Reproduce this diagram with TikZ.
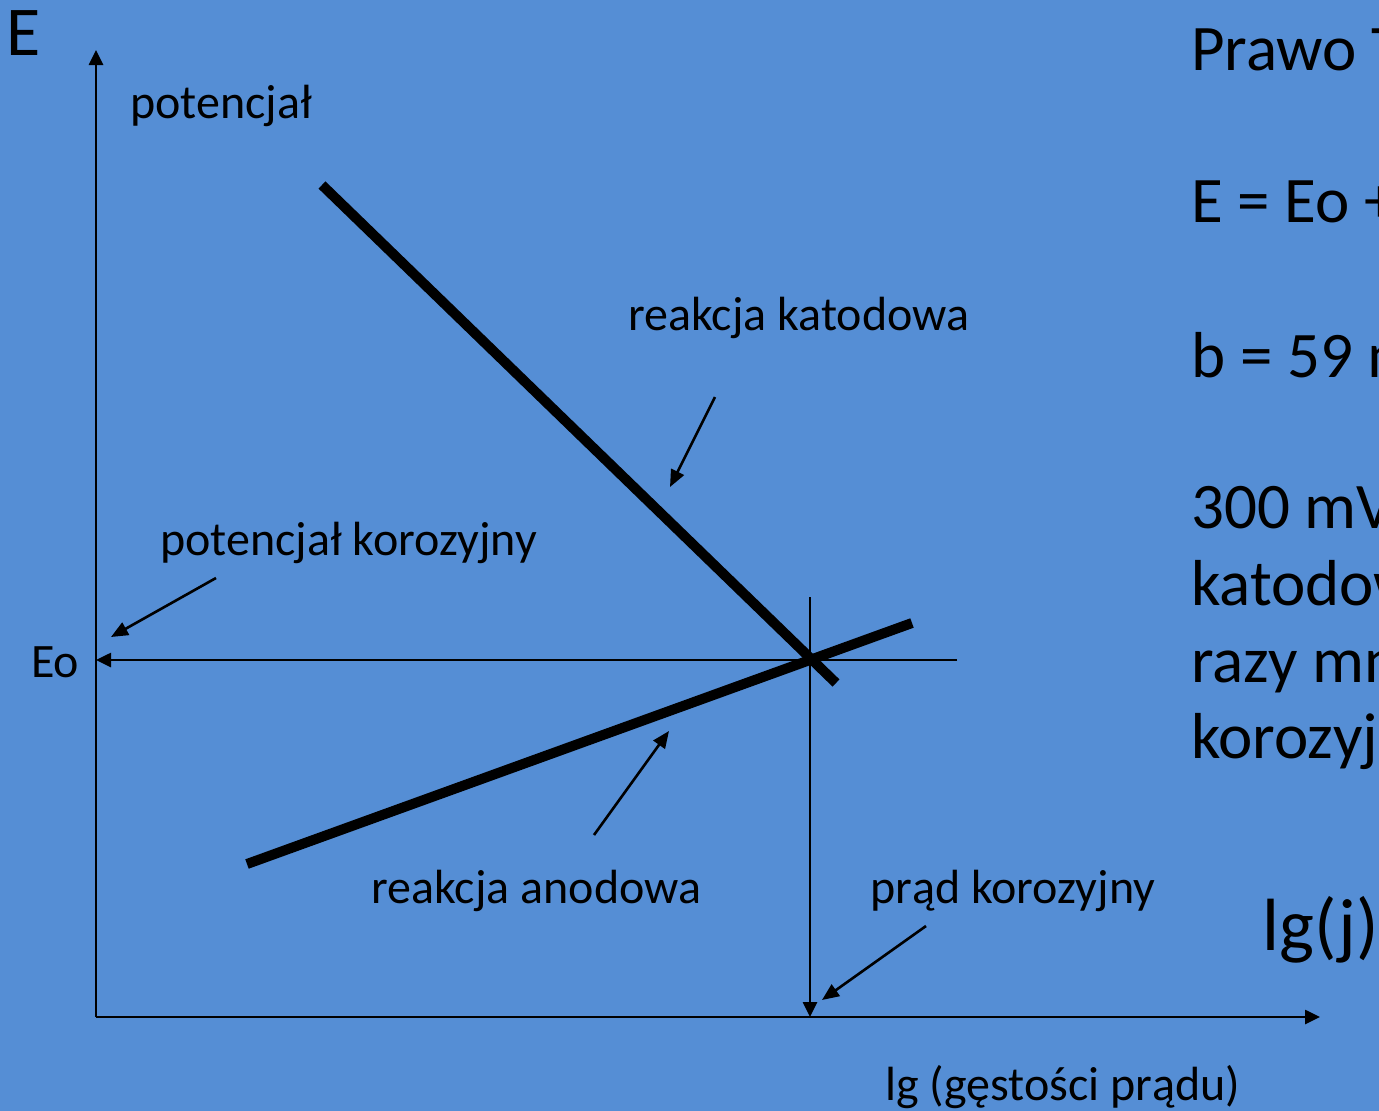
\documentclass[tikz,border=0pt]{standalone}
\usepackage{fontspec}
\setmainfont{Carlito}
\usetikzlibrary{arrows.meta}
\definecolor{slideblue}{RGB}{85,142,213}
\newcommand{\labelfont}{\fontsize{48}{57}\selectfont}
\newcommand{\sidefont}{\fontsize{65}{78}\selectfont}
\tikzset{
  axisline/.style={line width=2.6pt,-{Triangle[length=15pt,width=14pt]}},
  curve/.style={line width=10pt},
  pointer/.style={line width=2.6pt,-{Triangle[length=17pt,width=14pt]}},
  txt/.style={anchor=base west,inner sep=0pt,font=\labelfont}
}
\begin{document}
\begin{tikzpicture}[x=1pt,y=1pt,yscale=-1]
%background
\fill[slideblue] (0,0) rectangle (1379,1111);
\useasboundingbox (0,0) rectangle (1379,1111);

%Axes
\coordinate (O) at (96,1017);
\coordinate (Etop) at (96,50);
\coordinate (Jend) at (1320,1017);
\draw[axisline] (O) -- (Etop);
\draw[axisline] (O) -- (Jend);

%Corrosion point lines
\coordinate (Eaxis) at (96,660);
\coordinate (Eright) at (957,660);
\coordinate (jtop) at (810,597);
\coordinate (jaxis) at (810,1017);
\draw[axisline] (Eright) -- (Eaxis);
\draw[axisline] (jtop) -- (jaxis);

%Tafel lines
\coordinate (kat1) at (322,185);
\coordinate (kat2) at (836,683);
\coordinate (an1) at (247,864);
\coordinate (an2) at (912,623);
\draw[curve] (kat1) -- (kat2);
\draw[curve] (an1) -- (an2);

%Pointers
\coordinate (pk1) at (715,397);
\coordinate (pk2) at (670,487);
\draw[pointer] (pk1) -- (pk2);
\coordinate (pa1) at (594,835);
\coordinate (pa2) at (669,731);
\draw[pointer] (pa1) -- (pa2);
\coordinate (pe1) at (216,578);
\coordinate (pe2) at (111,637);
\draw[pointer] (pe1) -- (pe2);
\coordinate (pj1) at (926,926);
\coordinate (pj2) at (822,1000);
\draw[pointer] (pj1) -- (pj2);

% Text Node
\node[txt,font=\fontsize{70}{84}\selectfont] (lblE) at (6,55) {E};
\node[txt] (lblpot) at (130,118) {potencjał};
\node[txt] (lblkat) at (628,330) {reakcja katodowa};
\node[txt] (lblpk) at (160,555) {potencjał korozyjny};
\node[txt] (lblEo) at (31,677) {Eo};
\node[txt] (lblan) at (371,903) {reakcja anodowa};
\node[txt] (lblpj) at (870,903) {prąd korozyjny};
\node[txt] (lbllg) at (885,1100) {lg (gęstości prądu)};
\node[txt,font=\fontsize{74}{88}\selectfont] (lbllgj) at (1262,950) {lg(j)};

% Side text
\node[txt,font=\sidefont] (s1) at (1191,70) {Prawo T};
\node[txt,font=\sidefont] (s2) at (1191,222) {E = Eo +};
\node[txt,font=\sidefont] (s3) at (1191,377) {b = 59 m};
\node[txt,font=\sidefont] (s4) at (1191,528) {300 mV};
\node[txt,font=\sidefont] (s5) at (1191,605) {katodow};
\node[txt,font=\sidefont] (s6) at (1191,682) {razy mn};
\node[txt,font=\sidefont] (s7) at (1191,758) {korozyj};
\end{tikzpicture}
\end{document}
